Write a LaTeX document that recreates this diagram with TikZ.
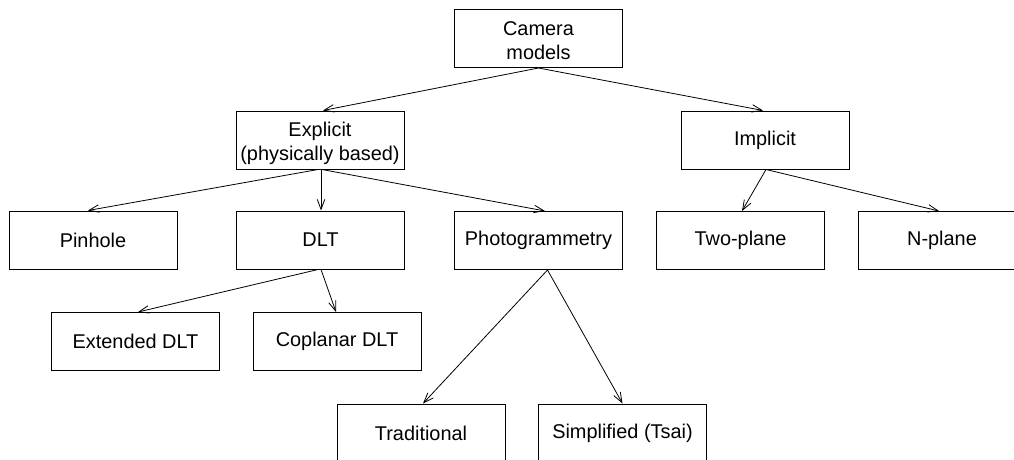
\documentclass[tikz,border=0pt]{standalone}
\usepackage{fontspec}
\setmainfont{Liberation Sans}
\usetikzlibrary{arrows.meta}
\begin{document}
\begin{tikzpicture}[x=1pt,y=1pt,
  box/.style={draw, line width=1pt, minimum width=168pt, minimum height=58pt, inner sep=0pt,
    align=center, font=\fontsize{19.9}{23.5}\selectfont},
  conn/.style={line width=0.8pt, -{Straight Barb[length=10pt,width=7.5pt]}}]
\clip (0,0) rectangle (1014,-460);
\node[box] (cam) at (538.5,-38.5) {\rule{0pt}{18pt}Camera\\models};
\node[box] (expl) at (320,-140) {\rule{0pt}{21pt}Explicit\\(physically based)};
\node[box] (impl) at (765,-140) {Implicit};
\node[box] (pin) at (93,-240) {Pinhole};
\node[box] (dlt) at (320.5,-240) {DLT};
\node[box] (photo) at (538.5,-240.5) {Photogrammetry};
\node[box] (two) at (740.5,-240.5) {Two-plane};
\node[box] (npl) at (942,-240.5) {N-plane};
\node[box] (ext) at (135.5,-341.5) {Extended DLT};
\node[box] (cop) at (337,-341.5) {Coplanar DLT};
\node[box] (trad) at (421,-433) {Traditional};
\node[box] (simp) at (622.5,-433) {Simplified (Tsai)};
\draw[conn] (cam.south) -- ([xshift=3pt]expl.north);
\draw[conn] (cam.south) -- ([xshift=-2pt]impl.north);
\draw[conn] ([xshift=-2pt]expl.south) -- ([xshift=-5pt]pin.north);
\draw[conn] ([xshift=1pt]expl.south) -- ([xshift=0.5pt]dlt.north);
\draw[conn] ([xshift=2pt]expl.south) -- ([xshift=6.5pt]photo.north);
\draw[conn] ([xshift=-2.5pt]dlt.south) -- ([xshift=2.5pt]ext.north);
\draw[conn] ([xshift=0.5pt]dlt.south) -- ([xshift=-1pt]cop.north);
\draw[conn] ([xshift=9pt]photo.south) -- ([xshift=2pt]trad.north);
\draw[conn] ([xshift=9pt]photo.south) -- (simp.north);
\draw[conn] ([xshift=1pt]impl.south) -- ([xshift=1.5pt]two.north);
\draw[conn] ([xshift=1pt]impl.south) -- ([xshift=-3pt]npl.north);
\end{tikzpicture}
\end{document}
